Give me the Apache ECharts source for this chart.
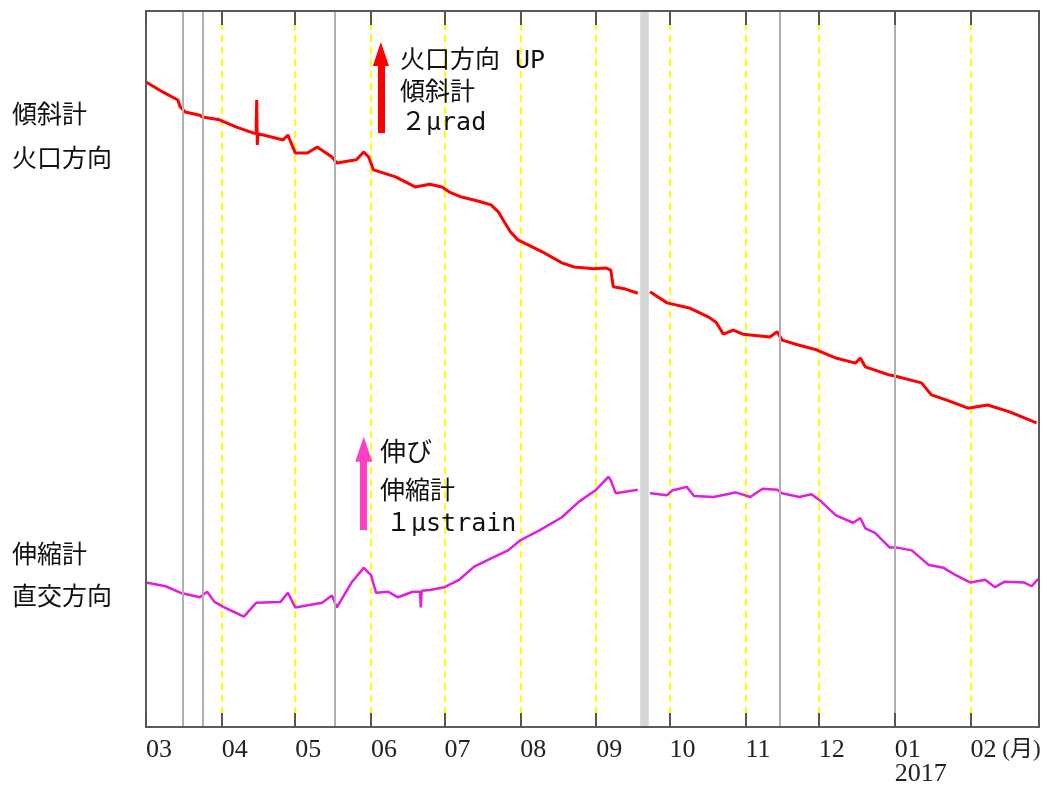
<!DOCTYPE html>
<html>
<head>
<meta charset="utf-8">
<script src="https://cdn.jsdelivr.net/npm/echarts@6/dist/echarts.min.js"></script>
<style>
html,body{margin:0;padding:0;background:#fff;}
#chart{width:1047px;height:787px;}
</style>
</head>
<body>
<div id="chart"></div>
<script>
// ---- data (tilt in μrad, strain in μstrain, relative values) ----
const monthLabels = ['01','02','03','04','05','06','07','08','09','10','11','12'];
const yearLabel = '2017';
const unitLabel = ' (月)';

const tiltData = [
  ['2016-03-01',0.02],['2016-03-08',-0.20],['2016-03-14',-0.37],['2016-03-15',-0.52],
  ['2016-03-17',-0.63],['2016-03-23',-0.70],['2016-03-24',-0.74],['2016-03-31',-0.80],
  ['2016-04-07',-0.96],['2016-04-14',-1.09],['2016-04-15',-1.09],['2016-04-15 06:00',-0.37],
  ['2016-04-15 12:00',-1.35],['2016-04-15 18:00',-1.11],['2016-04-18',-1.13],['2016-04-26',-1.24],
  ['2016-04-28',-1.13],['2016-04-29',-1.26],['2016-05-01',-1.52],['2016-05-06',-1.52],
  ['2016-05-10',-1.39],['2016-05-13',-1.50],['2016-05-16',-1.61],['2016-05-18',-1.74],
  ['2016-05-26',-1.67],['2016-05-29',-1.50],['2016-05-31',-1.61],['2016-06-02',-1.89],
  ['2016-06-11',-2.04],['2016-06-19',-2.26],['2016-06-25',-2.20],['2016-06-30',-2.26],
  ['2016-07-03',-2.37],['2016-07-08',-2.48],['2016-07-15',-2.57],['2016-07-20',-2.65],
  ['2016-07-23',-2.80],['2016-07-25',-2.98],['2016-07-28',-3.24],['2016-07-31',-3.41],
  ['2016-08-05',-3.54],['2016-08-11',-3.70],['2016-08-18',-3.91],['2016-08-23',-4.00],
  ['2016-08-31',-4.04],['2016-09-05',-4.02],['2016-09-07',-4.07],['2016-09-08',-4.43],
  ['2016-09-13',-4.48],['2016-09-18',-4.57],['2016-09-20',null],['2016-09-23',-4.54],
  ['2016-09-30',-4.78],['2016-10-09',-4.89],['2016-10-17',-5.09],['2016-10-20',-5.20],
  ['2016-10-23',-5.46],['2016-10-27',-5.37],['2016-10-31',-5.46],['2016-11-11',-5.52],
  ['2016-11-14',-5.41],['2016-11-16',-5.59],['2016-11-23',-5.70],['2016-11-30',-5.80],
  ['2016-12-08',-5.98],['2016-12-16',-6.09],['2016-12-18',-5.98],['2016-12-20',-6.17],
  ['2016-12-30',-6.35],['2017-01-01',-6.37],['2017-01-12',-6.52],['2017-01-16',-6.78],
  ['2017-01-22',-6.89],['2017-01-31',-7.07],['2017-02-08',-7.00],['2017-02-17',-7.15],
  ['2017-02-28',-7.39]
];

const strainData = [
  ['2016-03-01',0.07],['2016-03-09',0.03],['2016-03-15',-0.04],['2016-03-23',-0.09],
  ['2016-03-26',-0.03],['2016-03-29',-0.14],['2016-04-02',-0.20],['2016-04-06',-0.25],
  ['2016-04-10',-0.30],['2016-04-15',-0.15],['2016-04-25',-0.14],['2016-04-28',-0.04],
  ['2016-05-01',-0.20],['2016-05-12',-0.15],['2016-05-16',-0.07],['2016-05-18',-0.20],
  ['2016-05-24',0.07],['2016-05-29',0.23],['2016-06-01',0.15],['2016-06-03',-0.04],
  ['2016-06-08',-0.03],['2016-06-12',-0.09],['2016-06-18',-0.03],['2016-06-21',-0.03],
  ['2016-06-21 08:00',-0.20],['2016-06-21 16:00',-0.02],['2016-06-25',-0.01],['2016-07-01',0.02],
  ['2016-07-07',0.10],['2016-07-13',0.24],['2016-07-19',0.32],['2016-07-27',0.42],
  ['2016-08-01',0.53],['2016-08-09',0.64],['2016-08-18',0.78],['2016-08-25',0.95],
  ['2016-09-01',1.08],['2016-09-06',1.22],['2016-09-07',1.18],['2016-09-09',1.04],
  ['2016-09-18',1.08],['2016-09-20',null],['2016-09-23',1.04],['2016-09-30',1.02],
  ['2016-10-02',1.07],['2016-10-08',1.11],['2016-10-11',1.01],['2016-10-19',1.00],
  ['2016-10-28',1.05],['2016-11-03',1.00],['2016-11-08',1.09],['2016-11-14',1.08],
  ['2016-11-16',1.04],['2016-11-23',1.00],['2016-11-28',1.03],['2016-12-02',0.95],
  ['2016-12-08',0.80],['2016-12-15',0.72],['2016-12-18',0.77],['2016-12-20',0.66],
  ['2016-12-24',0.61],['2016-12-30',0.45],['2017-01-02',0.45],['2017-01-08',0.42],
  ['2017-01-15',0.26],['2017-01-21',0.23],['2017-01-26',0.15],['2017-02-01',0.07],
  ['2017-02-07',0.10],['2017-02-11',0.02],['2017-02-15',0.08],['2017-02-23',0.07],
  ['2017-02-26',0.03],['2017-02-28 16:00',0.11]
];

// event / maintenance markers
const grayLines = ['2016-03-16','2016-03-24','2016-05-17','2016-11-15','2017-01-01'];
const grayBand = ['2016-09-19','2016-09-22 12:00'];
// scale bars: [date, bottom value, top value]
const tiltScale = ['2016-06-05', -1.09, 0.63];   // 2 μrad
const strainScale = ['2016-05-29', 0.64, 1.52];  // 1 μstrain

const X_MIN = '2016-03-01', X_MAX = '2017-03-01';
const chart = echarts.init(document.getElementById('chart'));
const cjk = "'Noto Sans CJK JP', sans-serif";
const mono = "'DejaVu Sans Mono', 'Noto Sans CJK JP', monospace";
const maxTs = echarts.time.parse(X_MAX).getTime();

function txt(x, y, text, size, family){
  return {type:'text', x:x, y:y, z:10, style:{text:text, fill:'#111', font: size+'px '+family, verticalAlign:'middle', align:'left'}};
}

const tickStyle = {show:true, inside:true, length:14, lineStyle:{color:'#555', width:2}};
const timeBase = {type:'time', min:X_MIN, max:X_MAX, splitNumber:12,
                  minInterval:28*86400000, maxInterval:31*86400000};

const option = {
  animation:false,
  backgroundColor:'#fff',
  grid:{left:146, top:11, right:8, bottom:60, containLabel:false, outerBoundsMode:'none',
        show:true, z:6, borderColor:'#5a5a5a', borderWidth:2, backgroundColor:'transparent'},
  xAxis:[Object.assign({}, timeBase, {
    position:'bottom', z:8,
    axisLine:{show:false, onZero:false},
    axisTick:tickStyle,
    splitLine:{show:false},
    axisLabel:{
      show:true, showMaxLabel:false, showMinLabel:true, hideOverlap:false,
      align:'left', margin:11, color:'#222', fontSize:26, lineHeight:24,
      fontFamily:"'Liberation Serif', serif",
      formatter:function(v){
        if (v >= maxTs) return '';
        const m = new Date(v).getMonth();
        if (m === 0) return monthLabels[0] + '\n' + yearLabel;
        if (m === 1) return monthLabels[1] + '{u|' + unitLabel + '}';
        return monthLabels[m];
      },
      rich:{u:{fontSize:23, fontFamily:"'Liberation Serif','Noto Sans CJK JP', serif", color:'#222'}}
    }
  }), Object.assign({}, timeBase, {
    position:'top', z:8,
    axisLine:{show:false, onZero:false},
    axisTick:tickStyle,
    splitLine:{show:false}, axisLabel:{show:false}
  }), Object.assign({}, timeBase, {
    position:'bottom', z:0,
    axisLine:{show:false, onZero:false},
    axisTick:{show:false}, axisLabel:{show:false},
    splitLine:{show:true, lineStyle:{color:'#ffff00', width:2, type:[7,5]}}
  })],
  yAxis:[
    {type:'value', min:-14, max:1.565, show:false, splitLine:{show:false}},
    {type:'value', min:-1.5, max:6.283, show:false, splitLine:{show:false}}
  ],
  series:[
    {
      name:'傾斜計 火口方向', type:'line', xAxisIndex:0, yAxisIndex:0,
      data:tiltData, showSymbol:false, connectNulls:false,
      lineStyle:{color:'#ff0000', width:3}, z:3,
      markArea:{silent:true, itemStyle:{color:'#d6d6d6'}, data:[[{xAxis:grayBand[0]},{xAxis:grayBand[1]}]]},
      markLine:{
        silent:true, animation:false, label:{show:false},
        data: grayLines.map(d => [
          {coord:[d,-14], symbol:'none', lineStyle:{color:'#b0b0b0', width:2, type:'solid'}},
          {coord:[d,1.565], symbol:'none'}
        ]).concat([[
          {coord:[tiltScale[0], tiltScale[1]], symbol:'none', lineStyle:{color:'#ff0000', width:7, type:'solid'}},
          {coord:[tiltScale[0], tiltScale[2]], symbol:'triangle', symbolSize:[16,24]}
        ]])
      }
    },
    {
      name:'伸縮計 直交方向', type:'line', xAxisIndex:0, yAxisIndex:1,
      data:strainData, showSymbol:false, connectNulls:false,
      lineStyle:{color:'#e01ee0', width:2.5}, z:3,
      markLine:{
        silent:true, animation:false, label:{show:false},
        data:[[
          {coord:[strainScale[0], strainScale[1]], symbol:'none', lineStyle:{color:'#ff3ec8', width:7, type:'solid'}},
          {coord:[strainScale[0], strainScale[2]], symbol:'triangle', symbolSize:[17,25], itemStyle:{color:'#ff3ec8'}}
        ]]
      }
    }
  ],
  graphic:[
    txt(12, 113, '傾斜計', 25, cjk),
    txt(12, 157, '火口方向', 25, cjk),
    txt(12, 553, '伸縮計', 25, cjk),
    txt(12, 595, '直交方向', 25, cjk),
    txt(400, 61, '火口方向 UP', 25, mono),
    txt(400, 93, '傾斜計', 25, mono),
    txt(401, 123, '２μrad', 25, mono),
    txt(380, 451, '伸び', 26, cjk),
    txt(380, 492, '伸縮計', 25, mono),
    txt(386, 524, '１μstrain', 25, mono)
  ]
};
chart.setOption(option);
</script>
</body>
</html>
